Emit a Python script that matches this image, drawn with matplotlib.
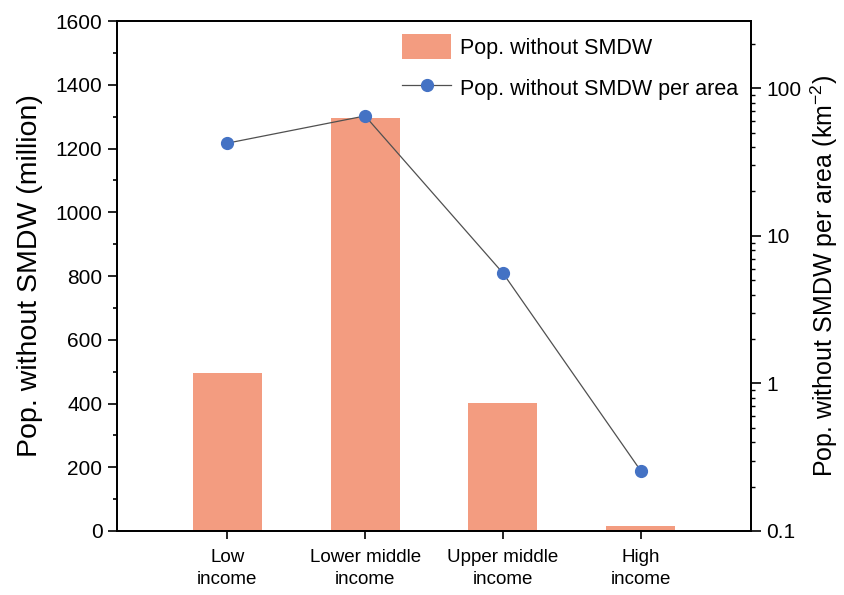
import numpy as np
import matplotlib.pyplot as plt

plt.rcParams['font.family'] = ['Liberation Sans', 'DejaVu Sans']
plt.rcParams['mathtext.fontset'] = 'custom'
plt.rcParams['mathtext.rm'] = 'Liberation Sans'

categories = ['Low\nincome', 'Lower middle\nincome', 'Upper middle\nincome', 'High\nincome']
pop_without = [496, 1295, 402, 15]          # million
pop_per_area = [42.5, 65.0, 5.6, 0.256]     # km^-2

bar_color = '#F39C80'
dot_color = '#4472C4'

fig = plt.figure(figsize=(8.45, 5.95), dpi=100)
ax = fig.add_axes([117 / 845, 1 - 531 / 595, (751 - 117) / 845, (531 - 21) / 595])
x = np.arange(len(categories))

b = ax.bar(x, pop_without, width=0.5, color=bar_color, label='Pop. without SMDW', zorder=1)
ax.set_xlim(-0.8, 3.8)
ax.set_ylim(0, 1600)
ax.set_yticks(np.arange(0, 1601, 200))
ax.set_yticks(np.arange(100, 1600, 200), minor=True)
ax.set_xticks(x)
ax.set_xticklabels(categories, fontsize=13.5, linespacing=1.4)
ax.tick_params(axis='y', which='major', direction='out', length=6.5, width=1.2, labelsize=15, pad=4)
ax.tick_params(axis='y', which='minor', direction='out', length=3, width=1.2)
ax.tick_params(axis='x', direction='out', length=6, width=1.2, pad=7)
ax.set_ylabel('Pop. without SMDW (million)', fontsize=20.5, labelpad=9)
for s in ax.spines.values():
    s.set_linewidth(1.3)

ax2 = ax.twinx()
ln, = ax2.plot(x, pop_per_area, color='#505050', lw=0.9, marker='o', ms=8.5,
               mfc=dot_color, mec=dot_color, label='Pop. without SMDW per area', zorder=3)
ax2.set_yscale('log')
ax2.set_ylim(0.1, 286)
ax2.set_yticks([0.1, 1, 10, 100])
ax2.set_yticklabels(['0.1', '1', '10', '100'])
ax2.tick_params(axis='y', which='major', direction='out', length=7, width=1.2, labelsize=15, pad=4)
ax2.tick_params(axis='y', which='minor', direction='out', length=3, width=1.0)
ax2.set_ylabel('Pop. without SMDW per area (km$^{-2}$)', fontsize=18, labelpad=5)
for s in ax2.spines.values():
    s.set_linewidth(1.3)

leg = ax2.legend([b, ln], ['Pop. without SMDW', 'Pop. without SMDW per area'],
                 loc='upper right', bbox_to_anchor=(1.0, 1.0), frameon=False,
                 fontsize=15.5, handlelength=2.3, handleheight=1.4,
                 labelspacing=0.75, handletextpad=0.4, borderaxespad=0.2)

fig.savefig('out.png', dpi=100)
